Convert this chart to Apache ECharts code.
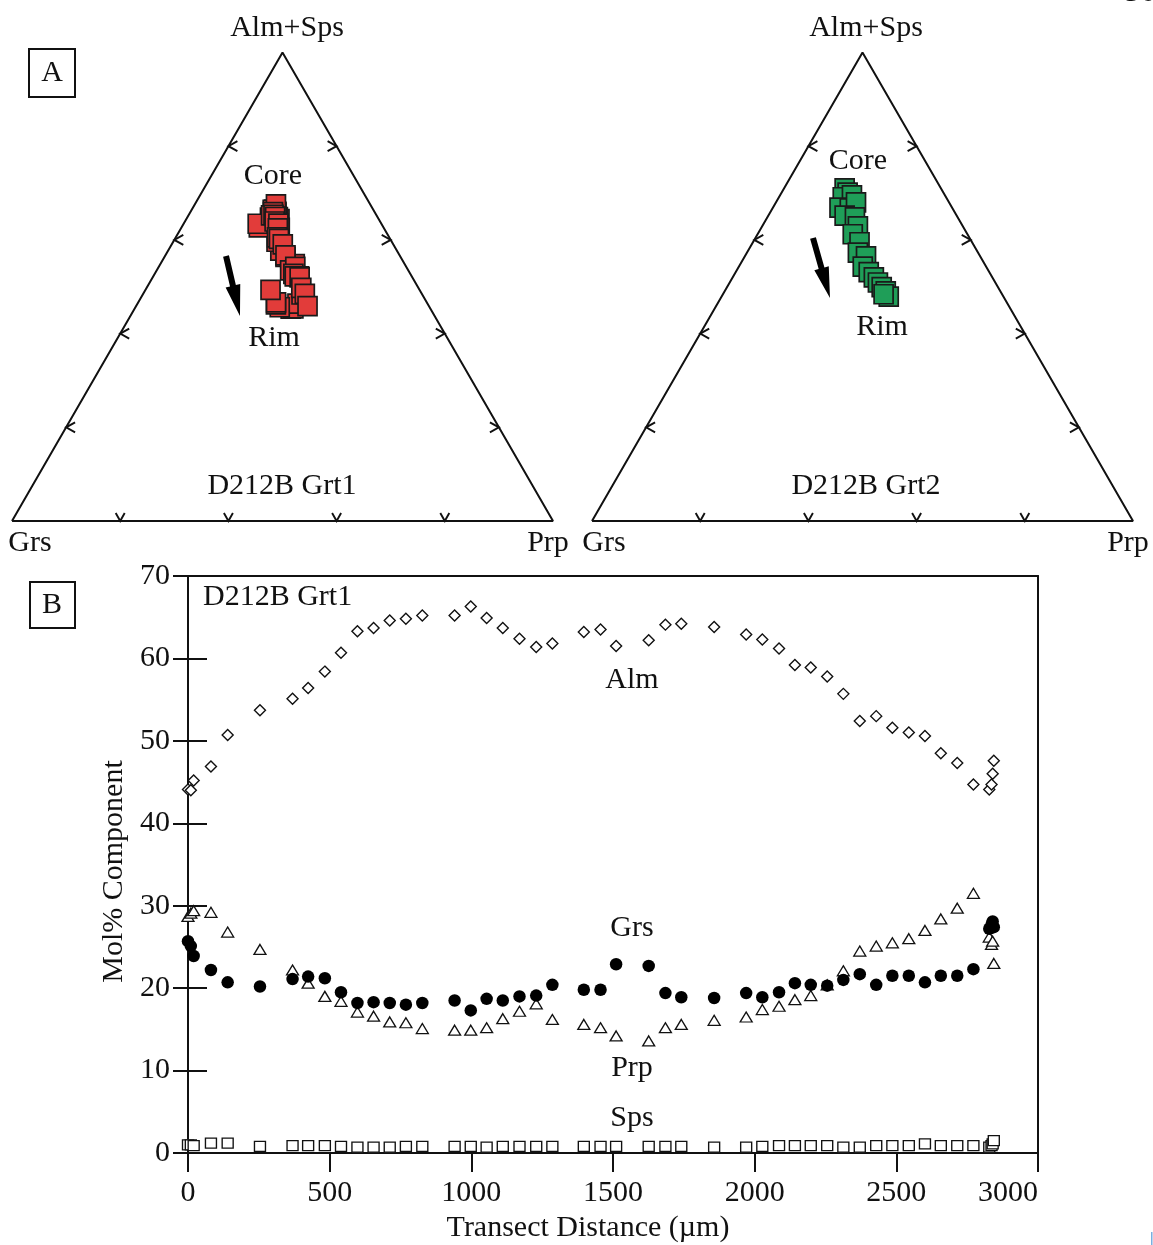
<!DOCTYPE html>
<html><head><meta charset="utf-8">
<script src="https://cdn.jsdelivr.net/npm/echarts@6/dist/echarts.min.js"></script>
<style>html,body{margin:0;padding:0;background:#fff}#c{width:1153px;height:1245px}</style>
</head><body><div id="c"></div>
<script>
// ---------- Transect data, garnet D212B Grt1 (mol%) ----------
const distance = [0,10,20,81,140,254,369,424,483,540,598,655,712,769,827,941,998,1054,1111,1170,1229,1286,1397,1456,1511,1626,1685,1741,1857,1970,2027,2086,2142,2198,2256,2313,2371,2429,2486,2544,2601,2657,2715,2772,2828,2836,2840,2844];
const alm = [44.1,44.0,45.2,46.9,50.7,53.7,55.1,56.4,58.4,60.7,63.3,63.7,64.6,64.8,65.2,65.2,66.3,64.9,63.7,62.4,61.4,61.8,63.2,63.5,61.5,62.2,64.1,64.2,63.8,62.9,62.3,61.2,59.2,58.9,57.8,55.7,52.4,53.0,51.6,51.0,50.6,48.5,47.3,44.7,44.1,44.7,46.0,47.6];
const grs = [25.7,25.1,23.9,22.2,20.7,20.2,21.1,21.4,21.2,19.5,18.2,18.3,18.2,18.0,18.2,18.5,17.3,18.7,18.5,19.0,19.1,20.4,19.8,19.8,22.9,22.7,19.4,18.9,18.8,19.4,18.9,19.5,20.6,20.4,20.3,21.0,21.7,20.4,21.5,21.5,20.7,21.5,21.5,22.3,27.2,27.7,28.1,27.4];
const prp = [28.7,29.1,29.4,29.2,26.8,24.7,22.2,20.6,19.0,18.4,17.1,16.6,15.9,15.8,15.1,14.9,14.9,15.2,16.3,17.2,18.1,16.2,15.6,15.2,14.2,13.6,15.2,15.6,16.1,16.5,17.4,17.8,18.6,19.1,20.4,22.1,24.5,25.1,25.5,26.0,27.0,28.4,29.7,31.5,26.2,25.3,25.7,23.0];
const sps = [1.0,1.0,0.9,1.2,1.2,0.8,0.9,0.9,0.9,0.8,0.7,0.7,0.7,0.8,0.8,0.8,0.8,0.7,0.8,0.8,0.8,0.8,0.8,0.8,0.8,0.8,0.8,0.8,0.7,0.7,0.8,0.9,0.9,0.9,0.9,0.7,0.7,0.9,0.9,0.9,1.1,0.9,0.9,0.9,0.7,0.9,1.1,1.5];

// ---------- Ternary data, garnet D212B Grt2 (mol%) ----------
const grt2AlmSps = [71.0,70.1,69.1,69.5,66.9,66.7,68.0,65.2,64.8,62.9,61.2,59.5,57.3,56.5,54.3,53.1,52.0,50.9,49.9,49.0,47.9,48.4];
const grt2Grs    = [17.8,17.7,19.1,17.2,20.8,19.0,17.2,20.7,19.0,19.4,21.2,20.8,22.2,21.1,22.8,22.3,21.9,21.7,21.5,21.2,21.2,21.9];
const grt2Prp    = [11.2,12.2,11.8,13.3,12.3,14.3,14.8,14.1,16.2,17.7,17.6,19.7,20.5,22.4,22.9,24.6,26.1,27.4,28.6,29.8,30.9,29.7];

// ---------- Axis ticks ----------
const xTickValues = [0,500,1000,1500,2000,2500,3000];
const yTickValues = [0,10,20,30,40,50,60,70];
const ternTickFractions = [0.2,0.4,0.6,0.8];

const H = Math.sqrt(3)/2;
function tern(a,g,p){const s=a+g+p;const A=a/s,P=p/s;return [P+A/2, A*H];}
const grt1Tern = distance.map((d,i)=>tern(alm[i]+sps[i], grs[i], prp[i]));
const grt2Tern = grt2AlmSps.map((a,i)=>tern(a, grt2Grs[i], grt2Prp[i]));
const triOutline = [[0,0],[1,0],[0.5,H],[0,0]];
const tickData = [];
ternTickFractions.forEach(f=>{
  tickData.push([f*0.5, f*H, 0]);
  tickData.push([1-f*0.5, f*H, 1]);
  tickData.push([f, 0, 2]);
});

const FONT = '"Liberation Serif","Times New Roman",serif';
const INK = '#111';
const FS = 30;

function tickRender(params, api){
  const p = api.coord([api.value(0), api.value(1)]);
  const side = api.value(2);
  let a,b;
  if(side===0){a=[p[0]+9,p[1]-5];b=[p[0]+9,p[1]+5];}
  else if(side===1){a=[p[0]-9,p[1]-5];b=[p[0]-9,p[1]+5];}
  else {a=[p[0]-4.5,p[1]-8];b=[p[0]+4.5,p[1]-8];}
  return {type:'polyline',shape:{points:[a,p,b]},style:{stroke:INK,lineWidth:1.9,fill:null}};
}
function arrowRender(params, api){
  const s = api.coord([api.value(0), api.value(1)]);
  const e = api.coord([api.value(2), api.value(3)]);
  const dx=e[0]-s[0], dy=e[1]-s[1], L=Math.hypot(dx,dy);
  const ux=dx/L, uy=dy/L, nx=-uy, ny=ux;
  const hl=31, hw=7.5, sw=3;
  const bx=e[0]-ux*hl, by=e[1]-uy*hl;
  const pts=[[s[0]+nx*sw,s[1]+ny*sw],[bx+nx*sw,by+ny*sw],[bx+nx*hw,by+ny*hw],e,[bx-nx*hw,by-ny*hw],[bx-nx*sw,by-ny*sw],[s[0]-nx*sw,s[1]-ny*sw]];
  return {type:'polygon',shape:{points:pts},style:{fill:'#000'}};
}

function ternAxes(i){
  return {
    x:{gridIndex:i,type:'value',min:0,max:1,show:false},
    y:{gridIndex:i,type:'value',min:0,max:H,show:false}
  };
}
const t0=ternAxes(0), t1=ternAxes(1);

const txt=(t,x,y,opt)=>Object.assign({type:'text',x:x,y:y,style:Object.assign({text:t,font:FS+'px '+FONT,fill:INK,align:'center',verticalAlign:'middle'},opt||{})});

const chart = echarts.init(document.getElementById('c'), null, {renderer:'canvas'});
chart.setOption({
  backgroundColor:'#fff',
  animation:false,
  textStyle:{fontFamily:FONT,color:INK},
  grid:[
    {left:12, top:521-541*H, width:541, height:541*H, outerBoundsMode:'none'},
    {left:592, top:521-541*H, width:541, height:541*H, outerBoundsMode:'none'},
    {left:188, top:576, width:850, height:577, outerBoundsMode:'none'}
  ],
  xAxis:[
    t0.x, t1.x,
    {gridIndex:2,type:'value',min:0,max:3000,interval:500,position:'bottom',
     axisLine:{show:true,onZero:false,lineStyle:{color:INK,width:2}},
     axisTick:{show:true,inside:false,length:19,lineStyle:{color:INK,width:2}},
     axisLabel:{show:true,fontSize:FS,color:INK,fontFamily:FONT,margin:25,alignMaxLabel:'right',
       formatter:v=>xTickValues.includes(v)?String(v):''},
     splitLine:{show:false},
     name:'Transect Distance (µm)',nameLocation:'middle',nameGap:60,
     nameTextStyle:{fontSize:FS,color:INK,fontFamily:FONT,padding:[0,50,0,0]}},
    {gridIndex:2,type:'value',min:0,max:3000,position:'top',
     axisLine:{show:true,onZero:false,lineStyle:{color:INK,width:2}},
     axisTick:{show:false},axisLabel:{show:false},splitLine:{show:false}}
  ],
  yAxis:[
    t0.y, t1.y,
    {gridIndex:2,type:'value',min:0,max:70,interval:10,position:'left',
     axisLine:{show:true,onZero:false,lineStyle:{color:INK,width:2}},
     axisTick:{show:true,inside:false,length:15,lineStyle:{color:INK,width:2}},
     axisLabel:{show:true,fontSize:FS,color:INK,fontFamily:FONT,margin:18,
       formatter:v=>yTickValues.includes(v)?String(v):''},
     splitLine:{show:false},
     name:'Mol% Component',nameLocation:'middle',nameGap:56,nameRotate:90,
     nameTextStyle:{fontSize:FS,color:INK,fontFamily:FONT,padding:[0,14,0,0]}},
    {gridIndex:2,type:'value',min:0,max:70,interval:10,position:'left',
     axisLine:{show:true,onZero:false,lineStyle:{color:INK,width:2}},
     axisTick:{show:true,inside:true,length:19,lineStyle:{color:INK,width:2}},
     axisLabel:{show:false},splitLine:{show:false}},
    {gridIndex:2,type:'value',min:0,max:70,position:'right',
     axisLine:{show:true,onZero:false,lineStyle:{color:INK,width:2}},
     axisTick:{show:false},axisLabel:{show:false},splitLine:{show:false}}
  ],
  series:[
    // ---- Ternary 1 ----
    {type:'line',xAxisIndex:0,yAxisIndex:0,data:triOutline,symbol:'none',silent:true,
     lineStyle:{color:INK,width:2}},
    {type:'custom',xAxisIndex:0,yAxisIndex:0,data:tickData,renderItem:tickRender,encode:{x:0,y:1},silent:true},
    {type:'custom',xAxisIndex:0,yAxisIndex:0,data:[[0.3956,0.4898,0.4214,0.3790]],renderItem:arrowRender,encode:{x:[0,2],y:[1,3]},silent:true},
    {name:'D212B Grt1',type:'scatter',xAxisIndex:0,yAxisIndex:0,data:grt1Tern,symbol:'rect',symbolSize:19,
     itemStyle:{color:'#e23c3a',borderColor:'#1a1a1a',borderWidth:1.7,opacity:1}},
    // ---- Ternary 2 ----
    {type:'line',xAxisIndex:1,yAxisIndex:1,data:triOutline,symbol:'none',silent:true,
     lineStyle:{color:INK,width:2}},
    {type:'custom',xAxisIndex:1,yAxisIndex:1,data:tickData,renderItem:tickRender,encode:{x:0,y:1},silent:true},
    {type:'custom',xAxisIndex:1,yAxisIndex:1,data:[[0.4085,0.5231,0.4399,0.4120]],renderItem:arrowRender,encode:{x:[0,2],y:[1,3]},silent:true},
    {name:'D212B Grt2',type:'scatter',xAxisIndex:1,yAxisIndex:1,data:grt2Tern,symbol:'rect',symbolSize:19,
     itemStyle:{color:'#1f9e58',borderColor:'#1a1a1a',borderWidth:1.7,opacity:1}},
    // ---- Transect ----
    {name:'Sps',type:'scatter',xAxisIndex:2,yAxisIndex:4,data:distance.map((d,i)=>[d,sps[i]]),
     symbol:'rect',symbolSize:[11,10],itemStyle:{color:'#fff',borderColor:INK,borderWidth:1.3,opacity:1}},
    {name:'Alm',type:'scatter',xAxisIndex:2,yAxisIndex:4,data:distance.map((d,i)=>[d,alm[i]]),
     symbol:'diamond',symbolSize:11,itemStyle:{color:'#fff',borderColor:INK,borderWidth:1.4,opacity:1}},
    {name:'Prp',type:'scatter',xAxisIndex:2,yAxisIndex:4,data:distance.map((d,i)=>[d,prp[i]]),
     symbol:'triangle',symbolSize:[12,10],itemStyle:{color:'#fff',borderColor:INK,borderWidth:1.3,opacity:1}},
    {name:'Grs',type:'scatter',xAxisIndex:2,yAxisIndex:4,data:distance.map((d,i)=>[d,grs[i]]),
     symbol:'circle',symbolSize:12.5,itemStyle:{color:'#000',borderColor:'#000',borderWidth:0,opacity:1}}
  ],
  graphic:[
    // panel A / B boxes
    {type:'rect',shape:{x:29,y:49,width:46,height:48},style:{fill:'#fff',stroke:INK,lineWidth:2}},
    txt('A',52,73),
    {type:'rect',shape:{x:30,y:582,width:45,height:46},style:{fill:'#fff',stroke:INK,lineWidth:2}},
    txt('B',52,605),
    // ternary 1 labels
    txt('Alm+Sps',287,28), txt('Grs',30,543), txt('Prp',548,543),
    txt('Core',273,176), txt('Rim',274,338), txt('D212B Grt1',282,486),
    // ternary 2 labels
    txt('Alm+Sps',866,28), txt('Grs',604,543), txt('Prp',1128,543),
    txt('Core',858,161), txt('Rim',882,327), txt('D212B Grt2',866,486),
    // transect labels
    txt('D212B Grt1',203,597,{align:'left'}),
    txt('Alm',632,680), txt('Grs',632,928), txt('Prp',632,1068), txt('Sps',632,1118),
    // page number (clipped at top)
    txt('36',1140,-7,{align:'center'}),
    {type:'rect',shape:{x:1151,y:1232,width:1.5,height:13},style:{fill:'#7aaee0'}}
  ]
});
</script>
</body></html>
